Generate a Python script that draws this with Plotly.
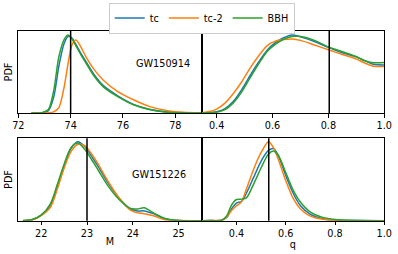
import plotly.graph_objects as go

# ---------------- data ----------------
series_names = ["tc", "tc-2", "BBH"]
series_colors = ["#1f77b4", "#ff7f0e", "#2ca02c"]

# GW150914, M
m1_x = [72.5, 72.9, 73.15, 73.35, 73.55, 73.75, 73.9, 74.05, 74.2, 74.4, 74.6, 74.9,
        75.25, 75.8, 76.4, 77.0, 77.6, 78.3, 79.0]
m1_tc = [0, 0.003, 0.03, 0.2, 0.6, 0.89, 0.98, 0.96, 0.88, 0.76, 0.65, 0.49,
         0.35, 0.22, 0.11, 0.047, 0.015, 0.002, 0]
m1_tc2 = [0, 0, 0.003, 0.015, 0.07, 0.33, 0.63, 0.87, 0.935, 0.84, 0.71, 0.555,
          0.42, 0.275, 0.17, 0.085, 0.036, 0.009, 0.002]
m1_bbh = [0, 0.005, 0.045, 0.28, 0.72, 0.94, 1.0, 0.95, 0.86, 0.74, 0.63, 0.47,
          0.335, 0.21, 0.105, 0.045, 0.014, 0.002, 0]

# GW150914, q
q1_x = [0.346, 0.37, 0.40, 0.43, 0.46, 0.49, 0.52, 0.55, 0.58, 0.61, 0.64, 0.67,
        0.70, 0.75, 0.80, 0.85, 0.90, 0.93, 0.96, 1.0]
q1_tc = [0, 0.004, 0.015, 0.055, 0.15, 0.3, 0.48, 0.65, 0.8, 0.9, 0.965, 1.0,
         0.975, 0.915, 0.84, 0.77, 0.72, 0.67, 0.625, 0.616]
q1_tc2 = [0.003, 0.015, 0.05, 0.127, 0.25, 0.4, 0.575, 0.73, 0.86, 0.92, 0.94, 0.947,
          0.93, 0.871, 0.81, 0.75, 0.69, 0.64, 0.6, 0.595]
q1_bbh = [0, 0.003, 0.01, 0.045, 0.13, 0.27, 0.45, 0.625, 0.785, 0.88, 0.945, 0.98,
          0.98, 0.93, 0.845, 0.785, 0.72, 0.67, 0.645, 0.646]

# GW151226, M
m2_x = [21.6, 21.8, 22.0, 22.2, 22.35, 22.5, 22.65, 22.8, 22.95, 23.1, 23.25, 23.45,
        23.7, 23.95, 24.1, 24.25, 24.45, 24.7, 25.0, 25.5]
m2_tc = [0, 0.012, 0.072, 0.19, 0.42, 0.69, 0.92, 1.005, 0.945, 0.82, 0.685, 0.49,
         0.29, 0.15, 0.125, 0.125, 0.09, 0.025, 0.002, 0]
m2_tc2 = [0, 0.008, 0.064, 0.17, 0.4, 0.67, 0.88, 0.975, 0.955, 0.85, 0.715, 0.51,
          0.29, 0.135, 0.1, 0.09, 0.063, 0.012, 0.001, 0]
m2_bbh = [0.001, 0.015, 0.072, 0.215, 0.46, 0.72, 0.93, 0.99, 0.91, 0.78, 0.64, 0.45,
          0.27, 0.155, 0.15, 0.165, 0.1, 0.028, 0.002, 0]

# GW151226, q
q2_x = [0.26, 0.30, 0.34, 0.36, 0.38, 0.40, 0.42, 0.44, 0.47, 0.50, 0.53, 0.55,
        0.57, 0.60, 0.63, 0.66, 0.70, 0.75, 0.80, 0.90, 1.0]
q2_tc = [0, 0.001, 0.005, 0.04, 0.15, 0.225, 0.245, 0.35, 0.555, 0.76, 0.895, 0.92,
         0.83, 0.575, 0.35, 0.19, 0.08, 0.026, 0.006, 0.001, 0]
q2_tc2 = [0, 0.002, 0.006, 0.045, 0.13, 0.19, 0.24, 0.4, 0.66, 0.87, 1.005, 0.93,
          0.78, 0.51, 0.285, 0.15, 0.058, 0.018, 0.004, 0, 0]
q2_bbh = [0, 0.001, 0.005, 0.06, 0.2, 0.27, 0.275, 0.29, 0.47, 0.675, 0.85, 0.888,
          0.83, 0.615, 0.39, 0.235, 0.11, 0.042, 0.016, 0.002, 0]

# reference (true) values
true_M = [74.0, 23.0]
true_q = [0.803, 0.531]
event_labels = ["GW150914", "GW151226"]

m1_ticks = [72, 74, 76, 78]
q_ticks = [0.4, 0.6, 0.8, 1.0]
m2_ticks = [22, 23, 24, 25]

# ---------------- figure ----------------
W, H = 398, 254
FONT = "DejaVu Sans"
FS = 9.7

def px_x(p):
    return p / W

def px_y(p):
    return 1 - p / H

fig = go.Figure()

panels = [
    ("x", "y", m1_x, [m1_tc, m1_tc2, m1_bbh]),
    ("x2", "y2", q1_x, [q1_tc, q1_tc2, q1_bbh]),
    ("x3", "y3", m2_x, [m2_tc, m2_tc2, m2_bbh]),
    ("x4", "y4", q2_x, [q2_tc, q2_tc2, q2_bbh]),
]

for pi, (xa, ya, xs, ys_list) in enumerate(panels):
    for si, ys in enumerate(ys_list):
        fig.add_trace(go.Scatter(
            x=xs, y=ys, xaxis=xa, yaxis=ya, mode="lines",
            line=dict(color=series_colors[si], width=1.5, shape="spline", smoothing=0.8),
            name=series_names[si], showlegend=(pi == 0), hoverinfo="skip",
        ))

# vertical reference lines
vlines = [("x", "y", true_M[0]), ("x2", "y2", true_q[0]),
          ("x3", "y3", true_M[1]), ("x4", "y4", true_q[1])]
for xa, ya, v in vlines:
    fig.add_shape(type="line", xref=xa, yref=ya + " domain", x0=v, x1=v, y0=0, y1=1,
                  line=dict(color="black", width=1.5), layer="above")

# event labels
fig.add_annotation(x=77.51, y=0.64, xref="x", yref="y", text=event_labels[0],
                   showarrow=False, font=dict(family=FONT, size=FS, color="black"))
fig.add_annotation(x=24.58, y=0.595, xref="x3", yref="y3", text=event_labels[1],
                   showarrow=False, font=dict(family=FONT, size=FS, color="black"))

# domains (pixels)
left_dom = [px_x(18.3), px_x(201.5)]
right_dom = [px_x(201.5), px_x(384.3)]
top_dom = [px_y(113), px_y(31)]
bot_dom = [px_y(220.7), px_y(138.3)]

axis_common = dict(showline=True, linecolor="black", linewidth=1, mirror=True,
                   showgrid=False, zeroline=False, ticks="outside", ticklen=3.5,
                   tickwidth=1, tickcolor="black", automargin=False,
                   tickfont=dict(family=FONT, size=FS, color="black"))
yaxis_common = dict(showline=True, linecolor="black", linewidth=1, mirror=True,
                    showgrid=False, zeroline=False, showticklabels=False, ticks="",
                    range=[0, 1.05], fixedrange=True, automargin=False)

fig.update_layout(
    width=W, height=H, margin=dict(l=0, r=0, t=0, b=0, autoexpand=False),
    paper_bgcolor="white", plot_bgcolor="white",
    font=dict(family=FONT, size=FS, color="black"),
    xaxis=dict(domain=left_dom, anchor="y", range=[72, 79], tickvals=m1_ticks, **axis_common),
    xaxis2=dict(domain=right_dom, anchor="y2", range=[0.346, 1.0], tickvals=q_ticks,
                tickformat=".1f", **axis_common),
    xaxis3=dict(domain=left_dom, anchor="y3", range=[21.5, 25.5], tickvals=m2_ticks,
                title=dict(text="M", standoff=0, font=dict(family=FONT, size=FS)), **axis_common),
    xaxis4=dict(domain=right_dom, anchor="y4", range=[0.258, 1.0], tickvals=q_ticks,
                tickformat=".1f",
                title=dict(text="q", standoff=0, font=dict(family=FONT, size=FS)), **axis_common),
    yaxis=dict(domain=top_dom, anchor="x",
               title=dict(text="PDF", standoff=2, font=dict(family=FONT, size=FS)), **yaxis_common),
    yaxis2=dict(domain=top_dom, anchor="x2", **yaxis_common),
    yaxis3=dict(domain=bot_dom, anchor="x3",
                title=dict(text="PDF", standoff=2, font=dict(family=FONT, size=FS)), **yaxis_common),
    yaxis4=dict(domain=bot_dom, anchor="x4", **yaxis_common),
    legend=dict(orientation="h", x=px_x(201.7), xanchor="center", y=px_y(2.5), yanchor="top",
                bordercolor="#cccccc", borderwidth=1, bgcolor="white",
                font=dict(family=FONT, size=FS, color="black"), itemwidth=30,
                tracegroupgap=0),
    showlegend=True,
)

fig.write_html(
    "out.html", config={"displayModeBar": False},
    post_script=("var s=document.createElement('style');"
                 "s.textContent='html,body{margin:0;padding:0;overflow:hidden;}';"
                 "document.head.appendChild(s);"),
)
